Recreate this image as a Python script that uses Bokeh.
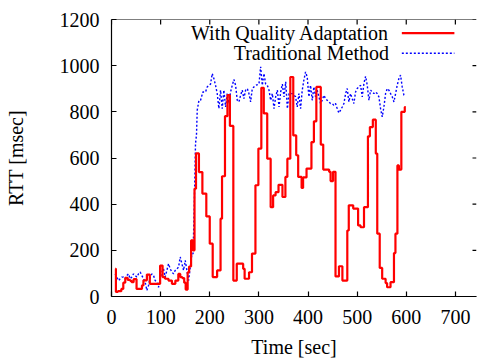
from bokeh.plotting import figure
from bokeh.models import Range1d, FixedTicker, Label, Span
from bokeh.embed import file_html
from bokeh.resources import INLINE

# ---- data ----
x_ticks = [0, 100, 200, 300, 400, 500, 600, 700]
y_ticks = [0, 200, 400, 600, 800, 1000, 1200]

qa_time = [7.5, 9, 13, 20, 24, 28, 33, 38, 41, 45, 51, 62, 65, 72, 78, 99, 104, 109,
           116, 123, 130, 136, 140, 144, 148, 151, 155, 158, 162, 166, 169, 172, 178,
           185, 193, 200, 206, 215, 222, 225, 231, 236, 241, 248, 255, 268, 271, 280,
           286, 293, 299, 305, 310, 317, 324, 329, 334, 340, 348, 354, 358, 364, 370,
           376, 380, 387, 390, 397, 407, 412, 417, 426, 431, 443, 446, 451, 456, 463,
           470, 480, 483, 492, 502, 507, 514, 522, 526, 532, 538, 541, 546, 551, 558,
           561, 568, 575, 578, 582, 585, 590, 597, 599]
qa_rtt = [120, 20, 23, 33, 60, 81, 72, 68, 62, 75, 33, 48, 70, 95, 55, 134, 84, 77,
          69, 55, 69, 98, 84, 80, 60, 30, 105, 130, 243, 200, 467, 620, 539,
          446, 347, 229, 84, 113, 337, 521, 781, 872, 739, 69, 142, 120, 77, 105,
          186, 482, 641, 904, 793, 597, 387, 438, 452, 484, 431, 518, 597, 951, 698,
          612, 518, 470, 516, 554, 669, 759, 908, 658, 550, 540, 500, 540, 87, 131,
          69, 286, 395, 381, 308, 300, 387, 694, 734, 766, 619, 272, 124, 77, 58,
          40, 62, 188, 272, 568, 550, 800, 821, 821]

trad_time = [7.5, 10.9, 14.3, 17.7, 21.1, 24.5, 27.8, 31.2, 34.6, 38.0, 41.4, 44.8,
             48.2, 51.6, 55.0, 58.4, 61.8, 65.2, 68.6, 72.0, 75.4, 78.8, 82.2, 85.6,
             88.9, 92.3, 95.7, 99.1, 102.5, 105.9, 109.3, 112.7, 116.1, 119.5, 122.9,
             126.3, 129.7, 133.1, 136.5, 139.9, 143.3, 146.7, 150.1, 153.5, 156.9,
             160.3, 163.7, 166, 168, 170, 171, 173, 174.5, 178, 181.3, 186, 191.4,
             194.9, 201.6, 205, 208.4, 211.8, 215.2, 218.6, 222, 225.4, 228.8, 232.2,
             235.6, 239, 242.4, 245.8, 249.2, 252.6, 256, 259.4, 262.8, 266.2, 269.6,
             273, 276.4, 279.8, 283.2, 286.6, 290, 293.4, 300.2, 303.6, 307, 310.4,
             313.8, 317.2, 320.6, 324, 327.4, 330.8, 334.2, 337.6, 341, 344.4, 347.8,
             351.2, 354.6, 358, 361.4, 364.8, 368.2, 371.6, 374.7, 378.1, 381.5,
             384.9, 388.3, 391.6, 395.0, 398.4, 401.8, 405.2, 408.6, 412.0, 415.4,
             418.8, 422.2, 425.6, 429.0, 432.4, 435.7, 439.1, 442.5, 445.9, 449.3,
             452.7, 456.1, 459.5, 462.9, 466.3, 469.7, 473.1, 476.5, 479.9, 483.2,
             486.6, 490.0, 493.4, 496.8, 500.2, 503.6, 507.0, 510.4, 513.8, 517.2,
             520.6, 524.0, 527.4, 530.8, 534.1, 537.5, 540.9, 544.3, 547.7, 551.1,
             554.5, 557.9, 561.3, 564.7, 568.1, 571.5, 574.9, 578.3, 581.6, 585.0,
             588.4, 591.8, 595.2, 597.4]
trad_rtt = [98, 84, 69, 77, 84, 84, 77, 91, 98, 77, 84, 98,
            91, 84, 98, 106, 91, 77, 62, 26, 48, 84, 98, 91,
            69, 62, 40, 77, 106, 120, 84, 113, 142, 120, 106,
            98, 113, 120, 127, 171, 142, 113, 156, 113, 69,
            127, 185, 185, 350, 550, 662, 700, 807, 850, 850, 886, 886,
            908, 920, 966, 944, 915, 879, 814, 894, 814, 894, 821,
            879, 836, 886, 915, 940, 915, 850, 843, 872, 894, 857,
            894, 901, 879, 843, 901, 908, 915, 920, 995, 915, 966,
            920, 915, 894, 850, 879, 814, 865, 894, 821, 886, 920,
            865, 930, 814, 879, 879, 879, 872, 865, 821, 879,
            814, 894, 937, 973, 951, 865, 915, 850, 908, 865,
            894, 865, 836, 850, 872, 857, 850, 843, 836, 836,
            828, 836, 814, 795, 807, 821, 836, 879, 901, 843,
            879, 857, 836, 886, 901, 908, 915, 865, 923, 954,
            915, 850, 894, 886, 879, 886, 879, 865, 814, 778,
            821, 879, 901, 894, 879, 865, 843, 879, 915, 944,
            959, 908, 872, 865]

series_names = ["With Quality Adaptation", "Traditional Method"]

# ---- figure ----
FONT = "Liberation Serif"
FS = "20px"
X_END = 743
Y_END = 1200

p = figure(width=477, height=361, output_backend="svg", toolbar_location=None,
           x_range=Range1d(0, X_END), y_range=Range1d(0, Y_END),
           min_border_left=111, min_border_right=1, min_border_top=19,
           min_border_bottom=65, outline_line_color=None,
           background_fill_color="white", border_fill_color="white")
p.xgrid.visible = False
p.ygrid.visible = False


def style_axis(ax):
    ax.axis_line_color = "black"
    ax.axis_line_width = 1.2
    ax.major_tick_line_color = "black"
    ax.major_tick_line_width = 1.2
    ax.major_tick_in = 5
    ax.major_tick_out = 0
    ax.minor_tick_line_color = None
    ax.major_label_text_font = FONT
    ax.major_label_text_font_size = FS
    ax.major_label_text_color = "black"
    ax.axis_label_text_font = FONT
    ax.axis_label_text_font_size = FS
    ax.axis_label_text_font_style = "normal"
    ax.axis_label_text_color = "black"


xa = p.xaxis[0]
xa.ticker = FixedTicker(ticks=x_ticks)
style_axis(xa)
xa.major_label_standoff = 13
xa.axis_label = "Time [sec]"
xa.axis_label_standoff = 9

ya = p.yaxis[0]
ya.ticker = FixedTicker(ticks=y_ticks)
style_axis(ya)
ya.major_label_standoff = 12
ya.axis_label = "RTT [msec]"
ya.axis_label_standoff = 30

# top border with mirrored (inward) ticks, right mirrored ticks (border cut off)
p.add_layout(Span(location=Y_END, dimension="width", line_color="black",
                  line_width=1.2))
tick_dy = 5 / 0.2305
tick_dx = 4 / 0.4913
p.segment(x0=x_ticks, x1=x_ticks, y0=[Y_END] * len(x_ticks),
          y1=[Y_END - tick_dy] * len(x_ticks), line_color="black", line_width=1.2)
p.segment(x0=[X_END] * len(y_ticks), x1=[X_END - tick_dx] * len(y_ticks),
          y0=y_ticks, y1=y_ticks, line_color="black", line_width=1.2)

# ---- data lines ----
p.line(trad_time, trad_rtt, line_color="#0000ff", line_width=1.4, line_dash="2 2")
p.step(qa_time, qa_rtt, mode="after", line_color="#ff0000", line_width=2.2)

# ---- legend (gnuplot style: text right-aligned, sample on the right) ----
ly = [1141, 1054]
colors = ["#ff0000", "#0000ff"]
for i, (name, yy, c) in enumerate(zip(series_names, ly, colors)):
    p.add_layout(Label(x=565, y=yy, text=name, text_align="right",
                       text_baseline="middle", text_font=FONT,
                       text_font_size=FS, text_color="black"))
    if i == 0:
        p.line([591, 698], [yy, yy], line_color=c, line_width=2.2)
    else:
        p.line([591, 698], [yy, yy], line_color=c, line_width=1.4, line_dash="2 2")

open("out.html", "w").write(file_html(p, INLINE))
